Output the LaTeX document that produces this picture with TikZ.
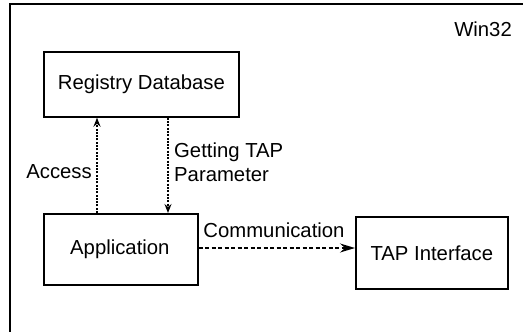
\documentclass[tikz,border=0pt]{standalone}
\usepackage{fontspec}
\setmainfont{Liberation Sans}
\usetikzlibrary{arrows.meta}
\begin{document}
\begin{tikzpicture}[x=1pt,y=-1pt,
  box/.style={draw, line width=1.7pt, inner sep=0pt, anchor=north west},
  lbl/.style={font=\fontsize{20.3}{24}\selectfont, inner sep=0pt},
  dotline/.style={line width=1.3pt, dash pattern=on 2pt off 1.3pt, -{Stealth[length=9pt,width=7pt,inset=3pt]}},
  dashline/.style={line width=1.6pt, dash pattern=on 4pt off 2.5pt, -{Stealth[length=15pt,width=9pt,inset=5pt]}}]
\useasboundingbox (0,0) rectangle (523,332);
% enclosing frame, open to the right and bottom
\draw[line width=1.9pt] (10,332) -- (10,4) -- (523,4);
\node[lbl, anchor=east] (win) at (512,29) {Win32};
% components
\node[box, minimum width=195pt, minimum height=65pt] (reg) at (43,51) {};
\node[lbl] (regt) at (reg.center) {Registry Database};
\node[box, minimum width=154pt, minimum height=71pt] (app) at (43,213) {};
\node[lbl] (appt) at ([xshift=-1pt]app.center) {Application};
\node[box, minimum width=152pt, minimum height=72pt] (tap) at (355,216) {};
\node[lbl] (tapt) at (tap.center) {TAP Interface};
% connectors
\coordinate (accB) at (app.north west -| 97,0);
\coordinate (accT) at (reg.south west -| 97,0);
\draw[dotline] (accB) -- (accT);
\coordinate (getT) at (reg.south west -| 168,0);
\coordinate (getB) at (app.north west -| 168,0);
\draw[dotline] (getT) -- (getB);
\draw[dashline] (app.east |- 0,248) -- (tap.west |- 0,248);
% connector labels
\node[lbl, anchor=east] (acc) at (92,172) {Access};
\node[lbl, anchor=west, align=left] (get) at (174,162) {Getting TAP\\[0pt]Parameter};
\node[lbl] (com) at (274,230) {Communication};
\end{tikzpicture}
\end{document}
